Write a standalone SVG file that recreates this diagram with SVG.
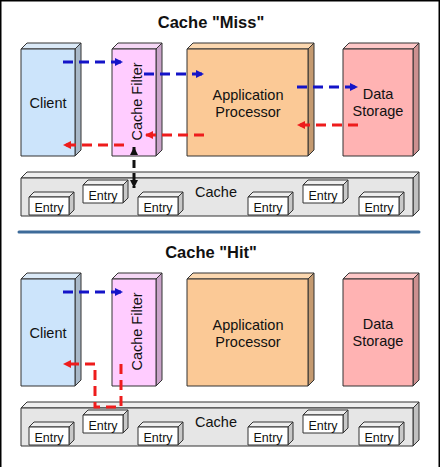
<svg xmlns="http://www.w3.org/2000/svg" width="440" height="467" viewBox="0 0 440 467">
<defs>
<style>
text{font-family:"Liberation Sans",Arial,sans-serif;fill:#111}
.t{font-size:14.5px;text-anchor:middle}
.e{font-size:12.5px;text-anchor:middle}
.h{font-size:16.5px;font-weight:bold;text-anchor:middle}
.o{stroke:#333;stroke-width:1;stroke-linejoin:round}
.blue{stroke:#1414c8;stroke-width:3;fill:none;stroke-dasharray:10 6}
.red{stroke:#ee1c1c;stroke-width:3;fill:none;stroke-dasharray:10 6}
.blk{stroke:#111;stroke-width:3;fill:none;stroke-dasharray:8 5}
</style>
<marker id="ab" markerUnits="userSpaceOnUse" markerWidth="9" markerHeight="9" refX="8" refY="4" orient="auto"><path d="M0,0 L8,4 L0,8 z" fill="#1414c8"/></marker>
<marker id="ar" markerUnits="userSpaceOnUse" markerWidth="9" markerHeight="9" refX="8" refY="4" orient="auto"><path d="M0,0 L8,4 L0,8 z" fill="#ee1c1c"/></marker>
<marker id="ak" markerUnits="userSpaceOnUse" markerWidth="9" markerHeight="9" refX="8" refY="4" orient="auto-start-reverse"><path d="M0,0 L8,4 L0,8 z" fill="#111"/></marker>
<g id="entryShape">
<polygon class="o" points="0,0 5,-5 45,-5 40,0" fill="#eeeeee"/>
<polygon class="o" points="40,0 45,-5 45,13 40,18" fill="#c8c8c8"/>
<rect class="o" x="0" y="0" width="40" height="18" fill="#ffffff"/>
<text class="e" x="20" y="14.5">Entry</text>
</g>
</defs>
<rect x="0.75" y="0.75" width="438.5" height="480" fill="#ffffff" stroke="#000" stroke-width="1.5"/>

<!-- ===== MISS ===== -->
<text class="h" x="211" y="28">Cache "Miss"</text>

<g id="miss-client">
<polygon class="o" points="21,49 27,43 81,43 75,49" fill="#dbeaf8"/>
<polygon class="o" points="75,49 81,43 81,150 75,156" fill="#a8b8c8"/>
<rect class="o" x="21" y="49" width="54" height="107" fill="#cce4fb"/>
<text class="t" x="48" y="108">Client</text>
</g>
<g id="miss-filter">
<polygon class="o" points="112,49 118,43 162,43 156,49" fill="#f6d8f6"/>
<polygon class="o" points="156,49 162,43 162,150 156,156" fill="#c9a3c9"/>
<rect class="o" x="112" y="49" width="44" height="107" fill="#ffccff"/>
<text class="t" transform="translate(141.5,101.5) rotate(-90)">Cache Filter</text>
</g>
<g id="miss-app">
<polygon class="o" points="187,49 193,43 314,43 308,49" fill="#fcd8b0"/>
<polygon class="o" points="308,49 314,43 314,150 308,156" fill="#c49a70"/>
<rect class="o" x="187" y="49" width="121" height="107" fill="#fbc996"/>
<text class="t" x="248" y="99.5">Application</text>
<text class="t" x="248" y="117">Processor</text>
</g>
<g id="miss-data">
<polygon class="o" points="343,49 349,43 419,43 413,49" fill="#ffc8c8"/>
<polygon class="o" points="413,49 419,43 419,150 413,156" fill="#cc9090"/>
<rect class="o" x="343" y="49" width="70" height="107" fill="#ffb3b3"/>
<text class="t" x="378" y="99">Data</text>
<text class="t" x="378" y="115.5">Storage</text>
</g>
<g id="miss-cache">
<polygon class="o" points="21,178 27,172 419,172 413,178" fill="#efefef"/>
<polygon class="o" points="413,178 419,172 419,210 413,216" fill="#c0c0c0"/>
<rect class="o" x="21" y="178" width="392" height="38" fill="#e6e6e6"/>
<text class="t" x="216" y="197">Cache</text>
</g>
<g id="miss-entry1"><use href="#entryShape" x="29" y="197"/></g>
<g id="miss-entry2"><use href="#entryShape" x="83" y="185"/></g>
<g id="miss-entry3"><use href="#entryShape" x="138" y="197"/></g>
<g id="miss-entry4"><use href="#entryShape" x="248" y="197"/></g>
<g id="miss-entry5"><use href="#entryShape" x="303" y="185"/></g>
<g id="miss-entry6"><use href="#entryShape" x="359" y="197"/></g>

<g id="miss-connectors">
<path class="blue" d="M63,62 L123,62" marker-end="url(#ab)"/>
<path class="blue" d="M144,74 L204,74" marker-end="url(#ab)"/>
<path class="blue" d="M297,87 L358,87" marker-end="url(#ab)"/>
<path class="red" d="M358,125 L297,125" marker-end="url(#ar)"/>
<path class="red" d="M204,135 L145,135" marker-end="url(#ar)"/>
<path class="red" d="M124,145 L63,145" marker-end="url(#ar)"/>
<path class="blk" d="M134,147 L134,188" marker-start="url(#ak)" marker-end="url(#ak)"/>
</g>

<line x1="19" y1="232" x2="419" y2="232" stroke="#3d6b99" stroke-width="3" stroke-linecap="round"/>

<!-- ===== HIT ===== -->
<text class="h" x="211" y="258">Cache "Hit"</text>

<g id="hit-client">
<polygon class="o" points="21,279 27,273 81,273 75,279" fill="#dbeaf8"/>
<polygon class="o" points="75,279 81,273 81,380 75,386" fill="#a8b8c8"/>
<rect class="o" x="21" y="279" width="54" height="107" fill="#cce4fb"/>
<text class="t" x="48" y="338">Client</text>
</g>
<g id="hit-filter">
<polygon class="o" points="112,279 118,273 162,273 156,279" fill="#f6d8f6"/>
<polygon class="o" points="156,279 162,273 162,380 156,386" fill="#c9a3c9"/>
<rect class="o" x="112" y="279" width="44" height="107" fill="#ffccff"/>
<text class="t" transform="translate(141.5,331.5) rotate(-90)">Cache Filter</text>
</g>
<g id="hit-app">
<polygon class="o" points="187,279 193,273 314,273 308,279" fill="#fcd8b0"/>
<polygon class="o" points="308,279 314,273 314,380 308,386" fill="#c49a70"/>
<rect class="o" x="187" y="279" width="121" height="107" fill="#fbc996"/>
<text class="t" x="248" y="329.5">Application</text>
<text class="t" x="248" y="347">Processor</text>
</g>
<g id="hit-data">
<polygon class="o" points="343,279 349,273 419,273 413,279" fill="#ffc8c8"/>
<polygon class="o" points="413,279 419,273 419,380 413,386" fill="#cc9090"/>
<rect class="o" x="343" y="279" width="70" height="107" fill="#ffb3b3"/>
<text class="t" x="378" y="329">Data</text>
<text class="t" x="378" y="345.5">Storage</text>
</g>
<g id="hit-cache">
<polygon class="o" points="21,408 27,402 419,402 413,408" fill="#efefef"/>
<polygon class="o" points="413,408 419,402 419,440 413,446" fill="#c0c0c0"/>
<rect class="o" x="21" y="408" width="392" height="38" fill="#e6e6e6"/>
<text class="t" x="216" y="427">Cache</text>
</g>
<g id="hit-entry1"><use href="#entryShape" x="29" y="427"/></g>
<g id="hit-entry2"><use href="#entryShape" x="83" y="415"/></g>
<g id="hit-entry3"><use href="#entryShape" x="138" y="427"/></g>
<g id="hit-entry4"><use href="#entryShape" x="248" y="427"/></g>
<g id="hit-entry5"><use href="#entryShape" x="303" y="415"/></g>
<g id="hit-entry6"><use href="#entryShape" x="359" y="427"/></g>

<g id="hit-connectors">
<path class="blue" d="M63,292 L123,292" marker-end="url(#ab)"/>
<path class="red" d="M121,364 L121,407 L95,407 L95,364 L63,364" marker-end="url(#ar)"/>
</g>
</svg>
